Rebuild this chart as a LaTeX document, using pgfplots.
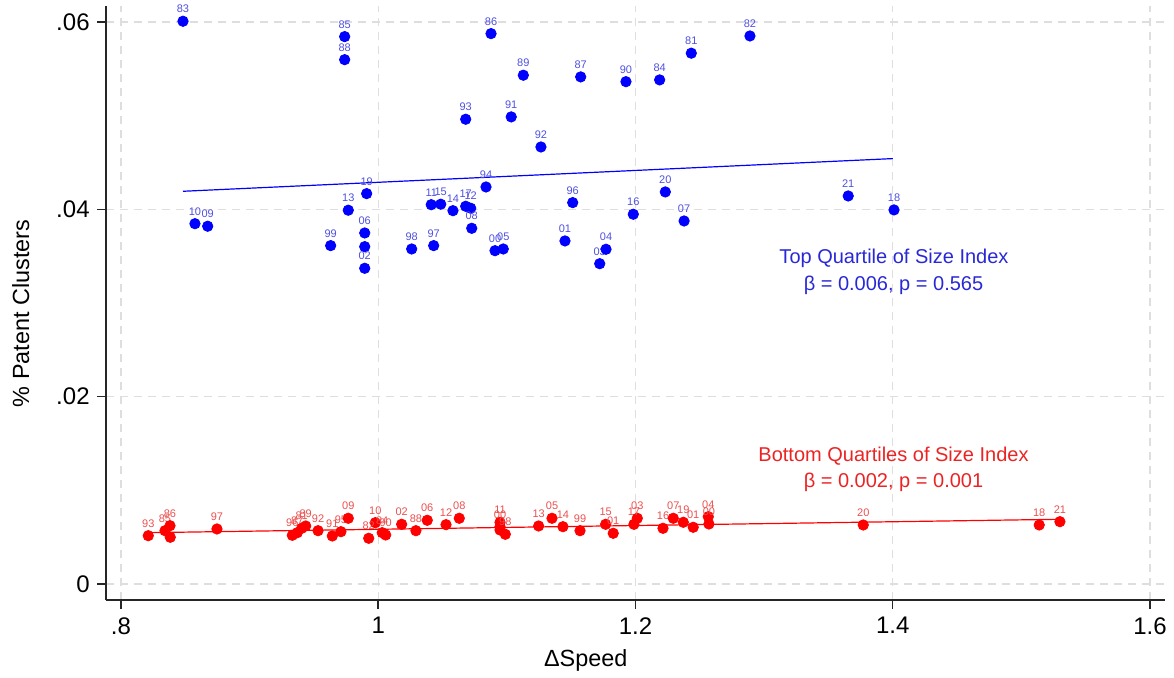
\documentclass[border=0pt]{standalone}
\usepackage{fontspec}
\setmainfont{Liberation Sans}
\usepackage{pgfplots}
\pgfplotsset{compat=1.18}
\usepackage{pgfplotstable}
\definecolor{sblue}{RGB}{0,0,255}
\definecolor{sred}{RGB}{255,0,0}
\definecolor{lblue}{RGB}{80,80,225}
\definecolor{lred}{RGB}{235,80,80}
\definecolor{tblue}{RGB}{40,40,215}
\definecolor{tred}{RGB}{235,35,35}
\definecolor{gridc}{RGB}{222,222,222}

\pgfplotstableread{
x y label
0.8482 0.06007 83
0.9739 0.05843 85
0.9739 0.05597 88
1.0877 0.05875 86
1.1128 0.05431 89
1.1574 0.05413 87
1.1926 0.05362 90
1.2188 0.05381 84
1.2434 0.05666 81
1.2890 0.05850 82
1.0680 0.04961 93
1.1034 0.04986 91
1.1265 0.04665 92
0.8575 0.03846 10
0.8674 0.03819 09
0.9767 0.03990 13
0.9910 0.04167 19
0.9895 0.03747 06
0.9630 0.03612 99
0.9895 0.03370 02
1.0260 0.03576 98
1.0431 0.03612 97
1.0412 0.04049 11
1.0486 0.04054 15
1.0581 0.03985 14
1.0680 0.04032 17
1.0719 0.04011 12
1.0727 0.03797 08
1.0838 0.04238 94
1.0908 0.03558 00
1.0972 0.03576 05
1.1512 0.04071 96
1.1452 0.03662 01
1.1722 0.03419 03
1.1771 0.03573 04
1.1983 0.03947 16
1.2232 0.04185 20
1.2378 0.03875 07
1.3654 0.04142 21
1.4010 0.03993 18
}\bluetab

\pgfplotstableread{
x y
0.9895 0.03601
}\bluehidden

\pgfplotstableread{
x y label
0.8212 0.005156 93
0.8342 0.005690 85
0.8381 0.006224 86
0.8746 0.005872 97
0.9332 0.005199 96
0.9371 0.005477 87
0.9405 0.005946 81
0.9436 0.006192 89
0.9532 0.005690 92
0.9643 0.005124 91
0.9710 0.005583 95
0.9767 0.007014 09
0.9977 0.006544 10
0.9926 0.004879 82
1.0031 0.005477 84
1.0058 0.005231 90
1.0182 0.006373 02
1.0293 0.005690 88
1.0381 0.006800 06
1.0527 0.006331 12
1.0630 0.007014 08
1.0947 0.006587 11
1.0947 0.006117 00
1.0988 0.005306 98
1.1247 0.006192 13
1.1351 0.007014 05
1.1436 0.006117 14
1.1569 0.005690 99
1.1768 0.006373 15
1.1827 0.005413 01
1.2014 0.007014 03
1.1988 0.006373 17
1.2214 0.005946 16
1.2294 0.007014 07
1.2372 0.006587 19
1.2449 0.006053 01
1.2566 0.007185 04
1.2571 0.006405 00
1.3771 0.006299 20
1.5139 0.006299 18
1.5300 0.006651 21
}\redtab

\pgfplotstableread{
x y
0.8383 0.004986
1.0947 0.005765
}\redhidden

\begin{document}
\begin{tikzpicture}
\begin{axis}[
  scale only axis, width=529.5pt, height=297.2pt,
  xmin=0.78834, xmax=1.6117, ymin=-0.00171, ymax=0.06174,
  axis lines=left,
  axis line style={-, line width=0.75pt, black!85},
  xtick={0.8,1,1.2,1.4,1.6}, xticklabels={.8,1,1.2,1.4,1.6},
  ytick={0,0.02,0.04,0.06}, yticklabels={0,.02,.04,.06},
  tick align=outside, major tick length=4.5pt,
  tick style={line width=0.75pt, black!85},
  grid=major,
  major grid style={gridc, dash pattern=on 4pt off 3pt, line width=0.6pt},
  ticklabel style={font=\fontsize{12}{14}\selectfont, inner sep=0pt},
  xticklabel style={anchor=north, yshift=-4pt},
  yticklabel style={anchor=east, xshift=-3.5pt},
  /pgf/number format/assume math mode=true,
  xlabel={ΔSpeed},
  ylabel={\% Patent Clusters},
  label style={font=\fontsize{11.7}{14}\selectfont},
  xlabel style={at={(axis description cs:0.453,-0.1127)}, anchor=base},
  ylabel style={at={(axis description cs:-0.0727,0.482)}, anchor=base},
  clip=false,
  every node near coord/.append style={font=\fontsize{5.5}{6}\selectfont, inner sep=0pt, anchor=base, yshift=4.3pt},
]
\addplot[sblue, line width=0.6pt] coordinates {(0.8482,0.04192) (1.4002,0.04541)};
\addplot[sred, line width=0.6pt] coordinates {(0.8212,0.005477) (1.5300,0.006907)};
\addplot[only marks, mark=*, mark size=2.6pt, color=sred] table[x=x,y=y] {\redhidden};
\addplot[only marks, mark=*, mark size=2.6pt, color=sred,
  nodes near coords, point meta=explicit symbolic,
  every node near coord/.append style={text=lred}] table[x=x,y=y,meta=label] {\redtab};
\addplot[only marks, mark=*, mark size=2.6pt, color=sblue] table[x=x,y=y] {\bluehidden};
\addplot[only marks, mark=*, mark size=2.6pt, color=sblue,
  nodes near coords, point meta=explicit symbolic,
  every node near coord/.append style={text=lblue}] table[x=x,y=y,meta=label] {\bluetab};
\node[text=tblue, anchor=base, font=\fontsize{10}{12}\selectfont] at (axis cs:1.4010,0.03416) {Top Quartile of Size Index};
\node[text=tblue, anchor=base, font=\fontsize{10}{12}\selectfont] at (axis cs:1.4006,0.03128) {β = 0.006, p = 0.565};
\node[text=tred, anchor=base, font=\fontsize{10}{12}\selectfont] at (axis cs:1.4006,0.01308) {Bottom Quartiles of Size Index};
\node[text=tred, anchor=base, font=\fontsize{10}{12}\selectfont] at (axis cs:1.4006,0.01025) {β = 0.002, p = 0.001};
\end{axis}
\pgfresetboundingbox
\path[use as bounding box] (-53pt,-38.5pt) rectangle (534pt,300pt);
\end{tikzpicture}
\end{document}
